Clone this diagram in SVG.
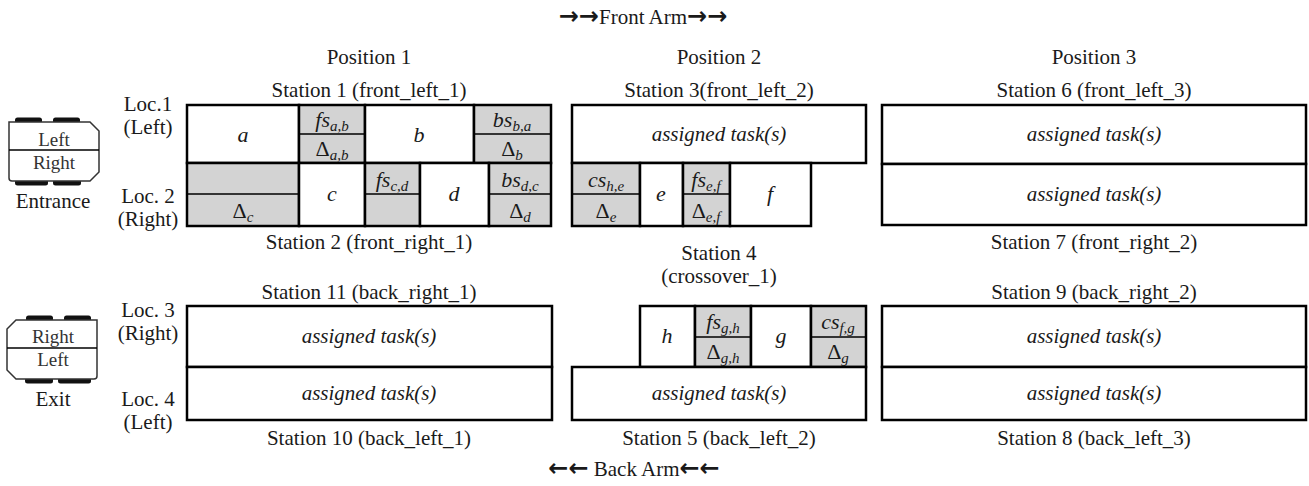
<svg xmlns="http://www.w3.org/2000/svg" width="1309" height="486" viewBox="0 0 1309 486">
<style>
.t{font-family:"Liberation Serif","Times New Roman",serif;font-size:21px;fill:#1a1a1a;text-anchor:middle}
.i{font-family:"Liberation Serif","Times New Roman",serif;font-style:italic;font-size:21px;fill:#1a1a1a;text-anchor:middle}
.m{font-family:"Liberation Serif","Times New Roman",serif;font-style:italic;font-size:22px;fill:#1a1a1a;text-anchor:middle}
.ar{font-family:"DejaVu Sans",sans-serif;font-weight:bold;font-size:24px}
.u{font-style:normal}
.sub{font-size:15px}
.w{fill:#fff;stroke:#000;stroke-width:2.5}
.g{fill:#d3d3d3;stroke:#000;stroke-width:2.5}
.th{stroke:#000;stroke-width:1.5;fill:none}
.car{fill:#fff;stroke:#333;stroke-width:1.5}
.wh{fill:#111}
.ct{font-family:"Liberation Serif","Times New Roman",serif;font-size:19px;fill:#333;text-anchor:middle}
</style>
<defs>
<g id="carShape">
<rect class="wh" x="15" y="117.5" width="27" height="6" rx="2.5"/>
<rect class="wh" x="53" y="117.5" width="27" height="6" rx="2.5"/>
<rect class="wh" x="15" y="179.5" width="33" height="6" rx="2.5"/>
<rect class="wh" x="53" y="179.5" width="28" height="6" rx="2.5"/>
<path class="car" d="M9 122 H90 L99 131 V172 L90 181 H12 Q9 181 9 178 Z"/>
<path class="th" d="M9 150 H99" stroke="#333"/>
</g>
</defs>
<rect width="1309" height="486" fill="#fff"/>

<g id="headers">
<text class="t" x="643" y="24"><tspan class="ar">→→</tspan>Front Arm<tspan class="ar">→→</tspan></text>
<text class="t" x="369" y="64">Position 1</text>
<text class="t" x="719" y="64">Position 2</text>
<text class="t" x="1094" y="64">Position 3</text>
<text class="t" x="634" y="476"><tspan class="ar">←←</tspan> Back Arm<tspan class="ar">←←</tspan></text>
</g>

<g id="loc-labels">
<text class="t" x="148" y="111">Loc.1</text>
<text class="t" x="148" y="134">(Left)</text>
<text class="t" x="148" y="203">Loc. 2</text>
<text class="t" x="148" y="226">(Right)</text>
<text class="t" x="148" y="317">Loc. 3</text>
<text class="t" x="148" y="340">(Right)</text>
<text class="t" x="148" y="406">Loc. 4</text>
<text class="t" x="148" y="429">(Left)</text>
</g>

<g id="entrance">
<use href="#carShape"/>
<text class="ct" x="54" y="146">Left</text>
<text class="ct" x="54" y="169">Right</text>
<text class="t" x="53" y="208">Entrance</text>
</g>

<g id="exit">
<use href="#carShape" transform="translate(106,198) scale(-1,1)"/>
<text class="ct" x="53" y="343">Right</text>
<text class="ct" x="53" y="366">Left</text>
<text class="t" x="53" y="406">Exit</text>
</g>

<g id="station1">
<text class="t" x="369" y="97">Station 1 (front_left_1)</text>
<rect class="w" x="187" y="105" width="112" height="58"/>
<rect class="g" x="299" y="105" width="66" height="58"/>
<rect class="w" x="365" y="105" width="109" height="58"/>
<rect class="g" x="474" y="105" width="77" height="58"/>
<path class="th" d="M299 134 H365 M474 134 H551"/>
<text class="m" x="243" y="142">a</text>
<text class="m" x="332" y="127">fs<tspan class="sub" dy="4">a,b</tspan></text>
<text class="m" x="332" y="156"><tspan class="u">Δ</tspan><tspan class="sub" dy="4">a,b</tspan></text>
<text class="m" x="419" y="142">b</text>
<text class="m" x="512" y="127">bs<tspan class="sub" dy="4">b,a</tspan></text>
<text class="m" x="512" y="156"><tspan class="u">Δ</tspan><tspan class="sub" dy="4">b</tspan></text>
</g>

<g id="station2">
<rect class="g" x="187" y="163" width="112" height="63"/>
<rect class="w" x="299" y="163" width="66" height="63"/>
<rect class="g" x="365" y="163" width="55" height="63"/>
<rect class="w" x="420" y="163" width="69" height="63"/>
<rect class="g" x="489" y="163" width="62" height="63"/>
<path class="th" d="M187 194 H299 M365 194 H420 M489 194 H551"/>
<text class="m" x="243" y="218"><tspan class="u">Δ</tspan><tspan class="sub" dy="4">c</tspan></text>
<text class="m" x="332" y="201">c</text>
<text class="m" x="392" y="187">fs<tspan class="sub" dy="4">c,d</tspan></text>
<text class="m" x="454" y="201">d</text>
<text class="m" x="520" y="187">bs<tspan class="sub" dy="4">d,c</tspan></text>
<text class="m" x="520" y="218"><tspan class="u">Δ</tspan><tspan class="sub" dy="4">d</tspan></text>
<text class="t" x="369" y="249">Station 2 (front_right_1)</text>
</g>

<g id="station3">
<text class="t" x="719" y="97">Station 3(front_left_2)</text>
<rect class="w" x="572" y="105" width="294" height="58"/>
<text class="i" x="719" y="141">assigned task(s)</text>
</g>

<g id="station4">
<rect class="g" x="572" y="163" width="68" height="63"/>
<rect class="w" x="640" y="163" width="43" height="63"/>
<rect class="g" x="683" y="163" width="47" height="63"/>
<rect class="w" x="730" y="163" width="81" height="63"/>
<path class="th" d="M572 194 H640 M683 194 H730"/>
<text class="m" x="606" y="187">cs<tspan class="sub" dy="4">h,e</tspan></text>
<text class="m" x="606" y="218"><tspan class="u">Δ</tspan><tspan class="sub" dy="4">e</tspan></text>
<text class="m" x="661" y="201">e</text>
<text class="m" x="706" y="187">fs<tspan class="sub" dy="4">e,f</tspan></text>
<text class="m" x="706" y="218"><tspan class="u">Δ</tspan><tspan class="sub" dy="4">e,f</tspan></text>
<text class="m" x="770" y="201">f</text>
<text class="t" x="719" y="260">Station 4</text>
<text class="t" x="719" y="283">(crossover_1)</text>
<rect class="w" x="640" y="306" width="55" height="61"/>
<rect class="g" x="695" y="306" width="56" height="61"/>
<rect class="w" x="751" y="306" width="60" height="61"/>
<rect class="g" x="811" y="306" width="55" height="61"/>
<path class="th" d="M695 337 H751 M811 337 H866"/>
<text class="m" x="667" y="343">h</text>
<text class="m" x="723" y="329">fs<tspan class="sub" dy="4">g,h</tspan></text>
<text class="m" x="723" y="359"><tspan class="u">Δ</tspan><tspan class="sub" dy="4">g,h</tspan></text>
<text class="m" x="781" y="343">g</text>
<text class="m" x="838" y="329">cs<tspan class="sub" dy="4">f,g</tspan></text>
<text class="m" x="838" y="359"><tspan class="u">Δ</tspan><tspan class="sub" dy="4">g</tspan></text>
</g>

<g id="station5">
<rect class="w" x="572" y="367" width="294" height="53"/>
<text class="i" x="719" y="400">assigned task(s)</text>
<text class="t" x="719" y="445">Station 5 (back_left_2)</text>
</g>

<g id="station6">
<text class="t" x="1094" y="97">Station 6 (front_left_3)</text>
<rect class="w" x="882" y="105" width="424" height="59"/>
<text class="i" x="1094" y="141">assigned task(s)</text>
</g>

<g id="station7">
<rect class="w" x="882" y="164" width="424" height="61"/>
<text class="i" x="1094" y="201">assigned task(s)</text>
<text class="t" x="1094" y="249">Station 7 (front_right_2)</text>
</g>

<g id="station9">
<text class="t" x="1094" y="299">Station 9 (back_right_2)</text>
<rect class="w" x="882" y="306" width="424" height="61"/>
<text class="i" x="1094" y="343">assigned task(s)</text>
</g>

<g id="station8">
<rect class="w" x="882" y="367" width="424" height="53"/>
<text class="i" x="1094" y="400">assigned task(s)</text>
<text class="t" x="1094" y="445">Station 8 (back_left_3)</text>
</g>

<g id="station11">
<text class="t" x="369" y="299">Station 11 (back_right_1)</text>
<rect class="w" x="187" y="306" width="365" height="61"/>
<text class="i" x="369" y="343">assigned task(s)</text>
</g>

<g id="station10">
<rect class="w" x="187" y="367" width="365" height="53"/>
<text class="i" x="369" y="400">assigned task(s)</text>
<text class="t" x="369" y="445">Station 10 (back_left_1)</text>
</g>

<g id="connectors"></g>
</svg>
